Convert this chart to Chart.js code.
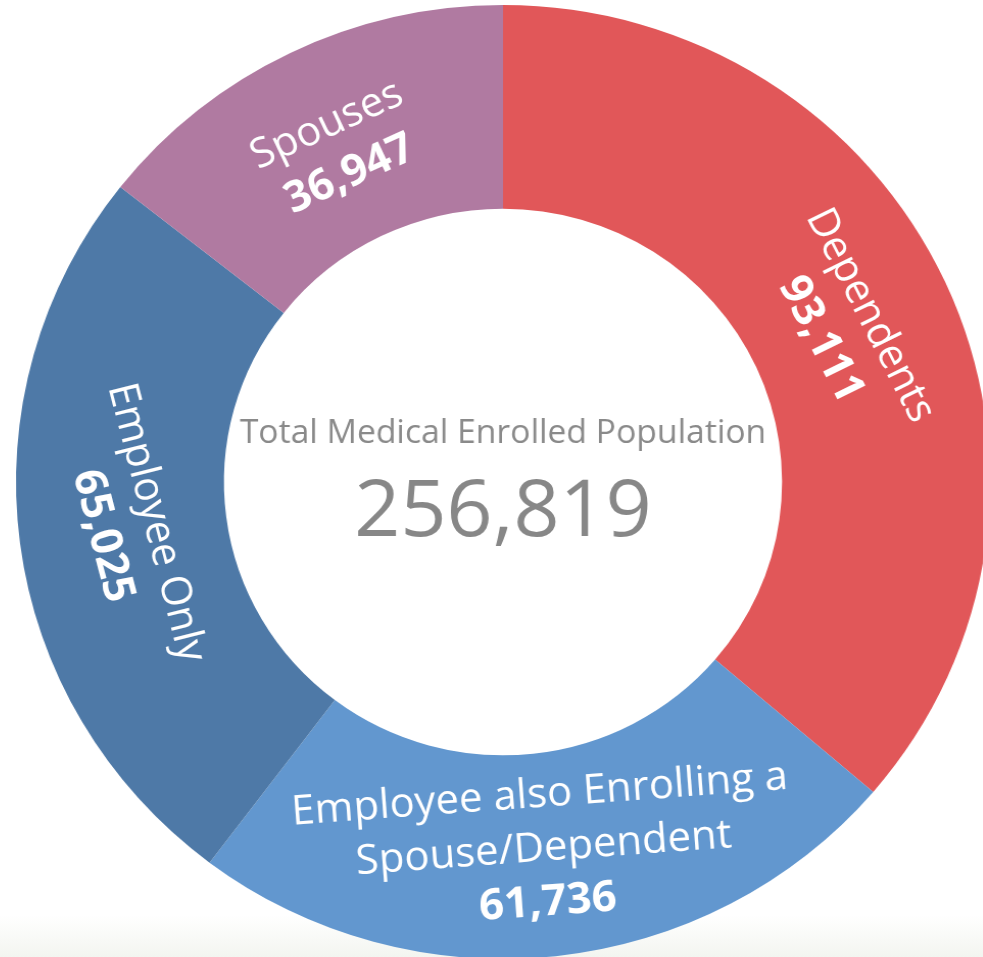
<!DOCTYPE html>
<html>
<head>
<meta charset="utf-8">
<script src="https://cdn.jsdelivr.net/npm/chart.js@4/dist/chart.umd.min.js"></script>
<style>
  html, body { margin: 0; padding: 0; overflow: hidden; }
  body {
    width: 983px; height: 957px;
    background: linear-gradient(to bottom, #ffffff 0px, #ffffff 915px, #f3f5f0 957px);
  }
  #wrap {
    position: absolute; left: 0; top: 0; width: 983px; height: 959px;
    transform: scaleX(1.021); transform-origin: 503px 482px;
  }
</style>
</head>
<body>
<div id="wrap"><canvas id="c"></canvas></div>
<script>
// ---- data ----
const categories = ['Dependents', 'Employee also Enrolling a Spouse/Dependent', 'Employee Only', 'Spouses'];
const enrolled = [93111, 61736, 65025, 36947];
const centerTitle = 'Total Medical Enrolled Population';

// ---- style ----
const sliceColors = ['#E15759', '#6297CF', '#4E79A7', '#B07AA1'];
const labelTiltDeg = [-2, 2, -7, 1];

const fmt = n => n.toLocaleString('en-US');
const total = enrolled.reduce((a, b) => a + b, 0);

function wrapText(ctx, text, maxW) {
  const words = text.split(' ');
  const lines = [];
  let cur = '';
  words.forEach(w => {
    const test = cur ? cur + ' ' + w : w;
    if (ctx.measureText(test).width > maxW && cur) { lines.push(cur); cur = w; }
    else cur = test;
  });
  if (cur) lines.push(cur);
  return lines;
}

const ringLabels = {
  id: 'ringLabels',
  afterDatasetsDraw(chart) {
    const ctx = chart.ctx;
    const meta = chart.getDatasetMeta(0);
    const nameFont = '41px "Open Sans"';
    const valueFont = 'bold 43px "Open Sans"';
    const lineH = 54;
    meta.data.forEach((arc, i) => {
      const p = arc.getProps(['x', 'y', 'startAngle', 'endAngle', 'innerRadius', 'outerRadius'], true);
      const mid = (p.startAngle + p.endAngle) / 2;
      const r = (p.innerRadius + p.outerRadius) / 2 - 6;
      const px = p.x + Math.cos(mid) * r;
      const py = p.y + Math.sin(mid) * r;
      let rot = mid + Math.PI / 2;
      rot = Math.atan2(Math.sin(rot), Math.cos(rot));
      if (rot > Math.PI / 2) rot -= Math.PI;
      else if (rot < -Math.PI / 2) rot += Math.PI;
      rot += labelTiltDeg[i] * Math.PI / 180;

      ctx.save();
      ctx.translate(px, py);
      ctx.rotate(rot);
      ctx.fillStyle = '#ffffff';
      ctx.textAlign = 'center';
      ctx.textBaseline = 'middle';
      ctx.font = nameFont;
      const lines = wrapText(ctx, categories[i], 500);
      const n = lines.length + 1;
      const y0 = -(n - 1) * lineH / 2;
      lines.forEach((ln, k) => ctx.fillText(ln, 0, y0 + k * lineH));
      ctx.font = valueFont;
      ctx.fillText(fmt(enrolled[i]), 0, y0 + lines.length * lineH);
      ctx.restore();
    });

    // centre text
    const a0 = meta.data[0];
    const cx = a0.x, cy = a0.y;
    ctx.save();
    ctx.textAlign = 'center';
    ctx.textBaseline = 'middle';
    ctx.fillStyle = '#8a8a8a';
    ctx.font = '33px "Open Sans"';
    ctx.fillText(centerTitle, cx, cy - 48);
    ctx.fillStyle = '#878787';
    ctx.font = '79px "Open Sans"';
    ctx.fillText(fmt(total), cx, cy + 31);
    ctx.restore();
  }
};

new Chart(document.getElementById('c'), {
  type: 'doughnut',
  data: {
    labels: categories,
    datasets: [{
      data: enrolled,
      backgroundColor: sliceColors,
      borderWidth: 0,
      hoverOffset: 0,
      offset: 0
    }]
  },
  options: {
    responsive: true,
    maintainAspectRatio: false,
    animation: false,
    events: [],
    cutout: '57.3%',
    layout: { padding: { left: 26, top: 5, right: 3, bottom: 0 } },
    plugins: {
      legend: { display: false },
      tooltip: { enabled: false }
    }
  },
  plugins: [ringLabels]
});
</script>
</body>
</html>
